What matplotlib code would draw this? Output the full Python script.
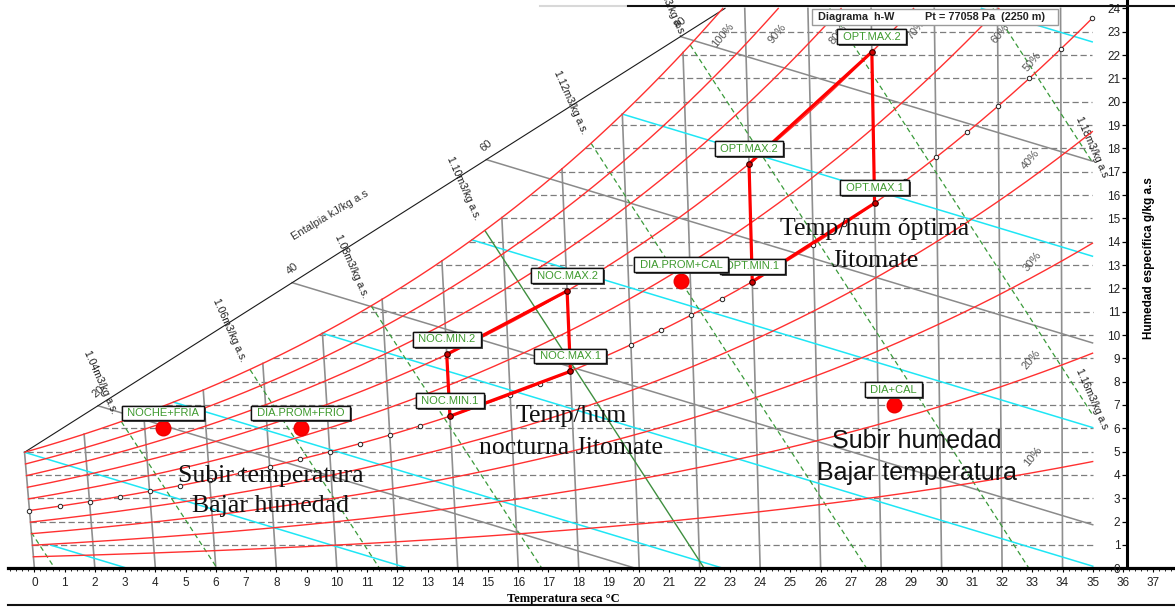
import numpy as np
import matplotlib
matplotlib.use("Agg")
import matplotlib.pyplot as plt
from matplotlib.ticker import MultipleLocator
from matplotlib import patheffects as pe
from matplotlib.lines import Line2D
from matplotlib.patches import Rectangle

plt.rcParams['font.family'] = ['Liberation Sans', 'DejaVu Sans']

# ---------------------------------------------------------------- data
P_TOTAL = 77058.0          # Pa
ALTITUDE_M = 2250
T_MAX = 35.0               # right edge of the chart, degC
W_MAX = 24.0               # top of the chart, g/kg

isotherm_temps = list(range(0, 35, 2))
rh_levels = [10, 20, 30, 40, 50, 60, 70, 80, 90, 100]
rh_marked = 50
enthalpy_levels = [20, 40, 60, 80]
wetbulb_temps = [-5, 0, 5, 10, 15, 20, 25]
volume_levels = [1.02, 1.04, 1.06, 1.08, 1.10, 1.12, 1.14, 1.16, 1.18]
volume_solid = 1.10
humidity_grid = list(range(1, 24))
x_ticks = list(range(0, 38))
w_ticks = list(range(0, 25))

night_names = ['NOC.MIN.1', 'NOC.MIN.2', 'NOC.MAX.2', 'NOC.MAX.1']
night_temp = [14, 14, 18, 18]
night_rh = [50, 70, 70, 50]

opt_names = ['OPT.MIN.1', 'OPT.MAX.2', 'OPT.MAX.2', 'OPT.MAX.1']
opt_temp = [24, 24, 28, 28]
opt_rh = [50, 70, 70, 50]

state_names = ['NOCHE+FRIA', 'DIA.PROM+FRIO', 'DIA.PROM+CAL', 'DIA+CAL']
state_temp = [4.6, 9.1, 21.7, 28.5]
state_w = [6.0, 6.0, 12.3, 7.0]


# ------------------------------------------------------- psychrometrics
def p_ws(t):
    t = np.asarray(t, dtype=float)
    tk = t + 273.15
    water = np.exp(-5.8002206e3 / tk + 1.3914993 - 4.8640239e-2 * tk
                   + 4.1764768e-5 * tk ** 2 - 1.4452093e-8 * tk ** 3
                   + 6.5459673 * np.log(tk))
    ice = np.exp(-5.6745359e3 / tk + 6.3925247 - 9.677843e-3 * tk
                 + 6.2215701e-7 * tk ** 2 + 2.0747825e-9 * tk ** 3
                 - 9.484024e-13 * tk ** 4 + 4.1635019 * np.log(tk))
    return np.where(t >= 0, water, ice)


def w_from_rh(t, rh):
    pw = np.asarray(rh, dtype=float) / 100.0 * p_ws(t)
    return 622.0 * pw / (P_TOTAL - pw)          # g/kg


def w_sat(t):
    return w_from_rh(t, 100.0)


def enthalpy(t, w):
    return 1.006 * t + w / 1000.0 * (2501.0 + 1.86 * t)


def w_on_enthalpy(t, h):
    return (h - 1.006 * t) / (2.501 + 0.00186 * t)


def w_on_volume(t, v):
    ratio = v * P_TOTAL / 1000.0 / (0.287042 * (t + 273.15))
    return (ratio - 1.0) / 1.6078 * 1000.0


# oblique h-W chart: horizontal position is a skewed enthalpy coordinate
SKEW = 0.066


def chart_x(t, w):
    return t + w * (0.00186 * t - SKEW) / 1.006


# ------------------------------------------------------------- figure
W_PX, H_PX = 1175, 609
X0_PX, PX_PER_C = 34.4, 30.24
Y0_PX, PX_PER_G = 568.3, 23.33


def at(px, py):
    """layout position given in figure pixels (top-left origin) -> data"""
    return (px - X0_PX) / PX_PER_C, (Y0_PX - py) / PX_PER_G


fig = plt.figure(figsize=(W_PX / 100, H_PX / 100), dpi=100)
rect = [8 / W_PX, (H_PX - Y0_PX) / H_PX, (W_PX - 8) / W_PX, Y0_PX / H_PX]
ax = fig.add_axes(rect)
ax.set_xlim(at(8, 0)[0], at(W_PX, 0)[0])
ax.set_ylim(0, Y0_PX / PX_PER_G)
for s in ('left', 'top', 'right'):
    ax.spines[s].set_visible(False)
ax.spines['bottom'].set_linewidth(2.3)
ax.set_yticks([])
ax.tick_params(axis='y', left=False, labelleft=False)
ax.set_xticks(x_ticks)
ax.xaxis.set_minor_locator(MultipleLocator(0.2))
ax.tick_params(axis='x', which='major', direction='out', length=3.2, width=0.8,
               pad=3, labelsize=8.5, labelcolor='#222222')
ax.tick_params(axis='x', which='minor', direction='out', length=2.2, width=0.6)
ax.set_xlabel('Temperatura seca °C', fontfamily=['Liberation Serif'],
              fontweight='bold', fontsize=9)
ax.xaxis.set_label_coords((563 - 8) / (W_PX - 8), -(599 - Y0_PX) / Y0_PX)
ax.xaxis.label.set_va('center')

T_FINE = np.linspace(-6.0, T_MAX, 8201)
W_SAT_FINE = w_sat(T_FINE)


def inside(t, w):
    return (t >= 0) & (t <= T_MAX) & (w >= 0) & (w <= np.minimum(W_MAX, w_sat(t)) + 1e-9)


def draw(t, w, mask, **kw):
    x = np.where(mask, chart_x(t, w), np.nan)
    y = np.where(mask, w, np.nan)
    ax.plot(x, y, **kw)


# horizontal humidity grid
for wv in humidity_grid:
    t_start = 0.0 if wv <= W_SAT_FINE[np.searchsorted(T_FINE, 0.0)] else \
        float(np.interp(wv, W_SAT_FINE, T_FINE))
    ax.plot([chart_x(t_start, wv), chart_x(T_MAX, wv)], [wv, wv],
            color='#7d7d7d', lw=0.9, ls=(0, (5, 2.6)), zorder=1)

# dry-bulb isotherms
for tv in isotherm_temps:
    wt = min(W_MAX, float(w_sat(tv)))
    ax.plot([chart_x(tv, 0.0), chart_x(tv, wt)], [0, wt],
            color='#8f8f8f', lw=1.2, zorder=1)

# enthalpy scale line
w_scale0 = float(w_sat(0.0))
x_scale0 = float(chart_x(0.0, w_scale0))
x_scale1 = at(725, 0)[0]
scale_slope = (W_MAX - w_scale0) / (x_scale1 - x_scale0)
ax.plot([x_scale0, x_scale1], [w_scale0, W_MAX], color='#1a1a1a', lw=0.8, zorder=3)

# enthalpy lines from the scale line
for hv in enthalpy_levels:
    w = w_on_enthalpy(T_FINE, hv)
    x = chart_x(T_FINE, w)
    m = (T_FINE <= T_MAX) & (w >= 0) & (w <= w_scale0 + scale_slope * (x - x_scale0))
    draw(T_FINE, w, m, color='#8a8a8a', lw=1.1, zorder=2)
    # label on the scale line
    k = np.argmax(m)
    lx, ly = x[k], w[k]
    ax.annotate(str(hv), (lx, ly), xytext=(0, 10), textcoords='offset points',
                ha='center', va='center', rotation=40, fontsize=8, color='#333333',
                zorder=3)

ax.text(*at(330, 215), 'Entalpia kJ/kg a.s', rotation=31, ha='center', va='center',
        rotation_mode='anchor', fontsize=8, color='#333333', zorder=3)

# isenthalps through the saturation points of each wet-bulb temperature
for tw in wetbulb_temps:
    hv = float(enthalpy(tw, w_sat(tw)))
    w = w_on_enthalpy(T_FINE, hv)
    m = inside(T_FINE, w) & (T_FINE >= max(tw, 0.6 if tw < 0 else 0.0))
    draw(T_FINE, w, m, color='#1ee6f5', lw=1.1, zorder=2)

# specific volume lines
for vv in volume_levels:
    w = w_on_volume(T_FINE, vv)
    m = inside(T_FINE, w)
    if abs(vv - volume_solid) < 1e-9:
        draw(T_FINE, w, m, color='#3f8f3f', lw=1.0, zorder=2)
    else:
        draw(T_FINE, w, m, color='#3a9a3a', lw=0.9, ls=(0, (4, 2.7)), zorder=2)

volume_label_pos = {1.04: (100, 382), 1.06: (229, 330), 1.08: (351, 266),
                    1.10: (463, 188), 1.12: (570, 102), 1.14: (668, 4),
                    1.16: (1092, 399), 1.18: (1092, 147)}
for vv, (lx, ly) in volume_label_pos.items():
    tail = '.' if lx < 1000 else ''
    ax.text(*at(lx, ly), f'{vv:.2f}m3/kg a.s{tail}', rotation=-66, ha='center',
            va='center', rotation_mode='anchor', fontsize=7.5, color='#1a1a1a',
            zorder=3)

# relative humidity curves
for rh in rh_levels:
    w = w_from_rh(T_FINE, rh)
    draw(T_FINE, w, inside(T_FINE, w), color='#ff3030', lw=1.0, zorder=3)

t_marks = np.arange(0, 36)
w_marks = w_from_rh(t_marks, rh_marked)
ok = w_marks <= W_MAX
ax.plot(chart_x(t_marks[ok], w_marks[ok]), w_marks[ok], 'o', ms=3.2, mfc='white',
        mec='#222222', mew=0.7, zorder=4)

rh_label_pos = {100: (723, 35), 90: (777, 33.5), 80: (838, 35), 70: (916, 30),
                60: (1000, 33.5), 50: (1032, 62), 40: (1031, 160), 30: (1032, 262),
                20: (1031, 360), 10: (1033, 457)}
for rh, (lx, ly) in rh_label_pos.items():
    ax.text(*at(lx, ly), f'{rh}%', rotation=50, ha='center', va='center',
            rotation_mode='anchor', fontsize=8, color='#555555', zorder=3)


# ------------------------------------------------------ zones and states
def tag(x, y, text, dy=11):
    a = ax.annotate(f' {text} ', (x, y), xytext=(0, dy), textcoords='offset points',
                    ha='center', va='center', fontsize=8, color='#3f9a2f', zorder=8,
                    bbox=dict(boxstyle='square,pad=0.22', fc='white', ec='#111111', lw=1.0))
    a.get_bbox_patch().set_path_effects(
        [pe.withSimplePatchShadow(offset=(1.4, -1.4), shadow_rgbFace='#444444', alpha=0.9),
         pe.Normal()])


for names, temps, rhs in ((night_names, night_temp, night_rh),
                          (opt_names, opt_temp, opt_rh)):
    t = np.array(temps, float)
    w = w_from_rh(t, np.array(rhs, float))
    x = chart_x(t, w)
    ax.plot(np.append(x, x[0]), np.append(w, w[0]), color='#ff0000', lw=2.3,
            solid_joinstyle='miter', zorder=5)
    ax.plot(x, w, 'o', ms=4, mfc='#d00000', mec='#300000', mew=0.8, zorder=6)
    for name, xi, wi in zip(names, x, w):
        tag(xi, wi, name)

st = np.array(state_temp, float)
sw = np.array(state_w, float)
sx = chart_x(st, sw)
ax.plot(sx, sw, 'o', ms=10.5, color='#ff0000', mec='#ee0000', zorder=7)
for name, xi, wi in zip(state_names, sx, sw):
    tag(xi, wi, name, dy=12 if name == 'DIA.PROM+CAL' else 11)

# zone notes
serif = ['Liberation Serif', 'DejaVu Serif']
ax.text(*at(875, 245), 'Temp/hum óptima\nJitomate', ha='center', va='center',
        fontfamily=serif, fontsize=18.5, color='#111111', zorder=9, linespacing=1.6)
ax.text(*at(571, 432), 'Temp/hum\nnocturna Jitomate', ha='center', va='center',
        fontfamily=serif, fontsize=18.5, color='#111111', zorder=9, linespacing=1.6)
ax.text(*at(271, 491), 'Subir temperatura\nBajar humedad', ha='center', va='center',
        fontfamily=serif, fontsize=18.5, color='#111111', zorder=9, linespacing=1.5)
ax.text(*at(917, 457), 'Subir humedad\nBajar temperatura', ha='center', va='center',
        fontsize=18, color='#111111', zorder=9, linespacing=1.45)

# title box
bx0, by0 = at(812, 25.1)
bx1, by1 = at(1058, 9.4)
ax.add_patch(Rectangle((bx0, by0), bx1 - bx0, by1 - by0, fc='white', ec='#9a9a9a',
                       lw=1.0, zorder=9))
ax.text(*at(818, 17.5), 'Diagrama  h-W', ha='left', va='center', fontsize=7.8,
        fontweight='bold', color='#222222', zorder=10)
ax.text(*at(925, 17.5), f'Pt = {P_TOTAL:.0f} Pa  ({ALTITUDE_M} m)', ha='left',
        va='center', fontsize=7.8, fontweight='bold', color='#222222', zorder=10)

# right-hand humidity axis
ay = fig.add_axes([rect[0], rect[1], (1127 - 8) / W_PX, rect[3]])
ay.set_ylim(ax.get_ylim())
ay.patch.set_visible(False)
for s in ('left', 'top', 'bottom'):
    ay.spines[s].set_visible(False)
ay.spines['right'].set_linewidth(2.2)
ay.set_xticks([])
ay.set_yticks(w_ticks)
ay.set_yticklabels([str(v) for v in w_ticks], ha='right')
ay.tick_params(axis='y', left=False, labelleft=False, right=True, labelright=True,
               direction='in', length=3.5, width=0.9, pad=-4.8, labelsize=8.5,
               labelcolor='#222222')
ay.yaxis.set_label_position('right')
ay.set_ylabel('Humedad específica g/kg a.s', fontweight='bold', fontsize=8.5,
              rotation=90)
ay.yaxis.set_label_coords((1149 - 8) / (1127 - 8), (Y0_PX - 258) / Y0_PX)
ay.yaxis.label.set_va('center')
ay.yaxis.label.set_ha('center')

# frame lines
fig.add_artist(Line2D([540 / W_PX, 628 / W_PX], [1 - 5.5 / H_PX] * 2,
                      color='#d8d8d8', lw=1.5))
fig.add_artist(Line2D([628 / W_PX, 1.0], [1 - 5.5 / H_PX] * 2, color='#111111', lw=1.5))
fig.add_artist(Line2D([8 / W_PX, 1.0], [1 - 605 / H_PX] * 2, color='#111111', lw=1.5))

fig.savefig('out.png', dpi=100)
